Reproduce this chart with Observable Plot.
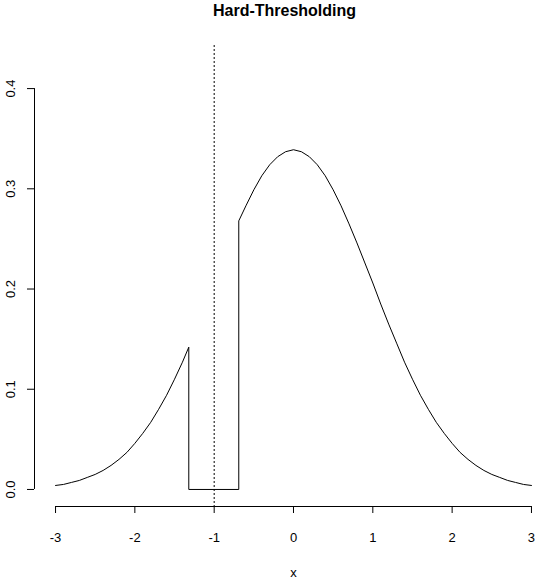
<!DOCTYPE html>
<html>
<head>
<meta charset="utf-8">
<script src="https://cdn.jsdelivr.net/npm/d3@7"></script>
<script src="https://cdn.jsdelivr.net/npm/@observablehq/plot@0.6"></script>
<style>
  html, body { margin: 0; padding: 0; background: #fff; }
  #chart { width: 540px; height: 580px; }
</style>
</head>
<body>
<div id="chart"></div>
<script>
const title = "Hard-Thresholding";
const xLabel = "x";
const xTicks = [-3, -2, -1, 0, 1, 2, 3];
const yTicks = [0.0, 0.1, 0.2, 0.3, 0.4];
const threshold = -1;

// density curve (jump to 0 between about -1.32 and -0.69)
const xs = [
  -3.0, -2.9, -2.8, -2.7, -2.6, -2.5, -2.4, -2.3, -2.2, -2.1, -2.0, -1.9,
  -1.8, -1.7, -1.6, -1.5, -1.4, -1.32,
  -1.32, -0.69, -0.69,
  -0.6, -0.5, -0.4, -0.3, -0.2, -0.1, 0.0, 0.1, 0.2, 0.3, 0.4, 0.5, 0.6,
  0.7, 0.8, 0.9, 1.0, 1.1, 1.2, 1.3, 1.4, 1.5, 1.6, 1.7, 1.8, 1.9, 2.0,
  2.1, 2.2, 2.3, 2.4, 2.5, 2.6, 2.7, 2.8, 2.9, 3.0
];
const ys = [
  0.004, 0.005, 0.007, 0.009, 0.012, 0.015, 0.019, 0.024, 0.030, 0.037, 0.046, 0.056,
  0.067, 0.080, 0.094, 0.110, 0.127, 0.142,
  0.000, 0.000, 0.268,
  0.283, 0.299, 0.313, 0.324, 0.332, 0.337, 0.339, 0.337, 0.332, 0.324, 0.313, 0.299, 0.283,
  0.265, 0.246, 0.226, 0.206, 0.185, 0.165, 0.146, 0.127, 0.110, 0.094, 0.080, 0.067, 0.056, 0.046,
  0.037, 0.030, 0.024, 0.019, 0.015, 0.012, 0.009, 0.007, 0.005, 0.004
];

const curve = xs.map((x, i) => ({x, y: ys[i]}));
const xDomain = [-3.24, 3.114];
const yDomain = [-0.017, 0.443];
const font = "'Liberation Sans', Arial, Helvetica, sans-serif";

const chart = Plot.plot({
  width: 540,
  height: 580,
  marginTop: 45,
  marginBottom: 74,
  marginLeft: 36,
  marginRight: 0,
  style: {fontFamily: font, fontSize: "13px", color: "#000", background: "#fff"},
  x: {domain: xDomain},
  y: {domain: yDomain},
  marks: [
    Plot.ruleX([threshold], {stroke: "#000", strokeWidth: 1, strokeDasharray: "2,2"}),
    Plot.line(curve, {x: "x", y: "y", stroke: "#000", strokeWidth: 1, curve: "linear"}),
    // x axis
    Plot.ruleY([yDomain[0]], {x1: xTicks[0], x2: xTicks[xTicks.length - 1], stroke: "#000"}),
    Plot.axisX({ticks: xTicks, tickSize: 7, tickFormat: () => "", label: null, stroke: "#000"}),
    Plot.text(xTicks, {x: d => d, frameAnchor: "bottom", dy: 31, text: d => String(d), fill: "#000", fontSize: 13, lineAnchor: "middle"}),
    Plot.text([xLabel], {x: 0, frameAnchor: "bottom", dy: 66, fill: "#000", fontSize: 13, lineAnchor: "middle"}),
    // y axis
    Plot.ruleX([xDomain[0]], {y1: yTicks[0], y2: yTicks[yTicks.length - 1], stroke: "#000", dx: -2}),
    Plot.axisY({ticks: yTicks, tickSize: 7, tickFormat: () => "", label: null, stroke: "#000", dx: -2}),
    Plot.text(yTicks, {y: d => d, frameAnchor: "left", dx: -26, rotate: -90, text: d => d.toFixed(1), fill: "#000", fontSize: 13, lineAnchor: "middle", textAnchor: "middle"}),
    // title
    Plot.text([title], {frameAnchor: "top", dx: -4, dy: -35, fill: "#000", fontSize: 16, fontWeight: "bold", lineAnchor: "middle"})
  ]
});
document.getElementById("chart").appendChild(chart);
</script>
</body>
</html>
